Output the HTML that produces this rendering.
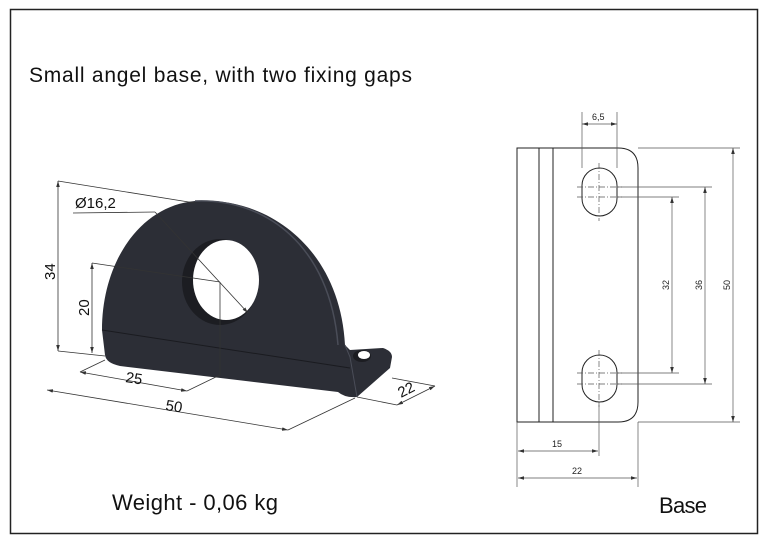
<!DOCTYPE html>
<html><head><style>body{margin:0;background:#fff}svg{display:block}</style></head><body>
<svg width="768" height="543" viewBox="0 0 768 543" xmlns="http://www.w3.org/2000/svg" font-family="Liberation Sans, sans-serif">
<defs>
<marker id="a" viewBox="0 0 10 10" refX="10" refY="5" markerWidth="6" markerHeight="6" orient="auto-start-reverse" markerUnits="userSpaceOnUse"><path d="M0,2 L10,5 L0,8 Z" fill="#333"/></marker>
</defs>
<rect x="10.5" y="9.5" width="747" height="524" fill="none" stroke="#222" stroke-width="1.5"/>
<text x="29" y="82" font-size="21" textLength="383" fill="#111">Small angel base, with two fixing gaps</text>
<text x="112" y="510" font-size="22" textLength="166" fill="#111">Weight - 0,06 kg</text>
<text x="659" y="513" font-size="22" textLength="48" fill="#111">Base</text>

<path d="M105,355 L102,330 C102,262 140,206 195,201 C270,196 340,250 345,345 L350,350 L383,348 Q392,351 392,357 L390,368 L357,397 Q345,398 338,392 L120,366 Q106,363 105,355 Z" fill="#2c2e36"/>
<path d="M102,330 L350,368" stroke="#1a1b20" stroke-width="1" fill="none"/>
<path d="M195,201 C265,198 330,245 338,345" stroke="#4a4d58" stroke-width="1.5" fill="none"/>
<path d="M345,345 L350,357 L357,397" stroke="#4a4d58" stroke-width="1" fill="none"/>
<ellipse cx="220" cy="282" rx="38" ry="43" fill="#1c1d22"/>
<ellipse cx="226" cy="280" rx="33" ry="40" fill="#fff"/>
<ellipse cx="362" cy="356" rx="9" ry="6" fill="#1c1d22"/>
<ellipse cx="364" cy="355" rx="6" ry="4" fill="#fff"/>
<g stroke="#333" stroke-width="0.8" fill="none">
<line x1="58" y1="181" x2="58" y2="351" marker-start="url(#a)" marker-end="url(#a)"/>
<line x1="58" y1="181" x2="195" y2="203"/>
<line x1="58" y1="351" x2="105" y2="356"/>
<line x1="92" y1="263" x2="92" y2="353" marker-start="url(#a)" marker-end="url(#a)"/>
<line x1="92" y1="263" x2="220" y2="282"/>
<line x1="220" y1="282" x2="220" y2="375"/>
<line x1="80" y1="372" x2="187" y2="391" marker-start="url(#a)" marker-end="url(#a)"/>
<line x1="187" y1="391" x2="220" y2="375"/>
<line x1="80" y1="372" x2="105" y2="360"/>
<line x1="47" y1="390" x2="288" y2="430" marker-start="url(#a)" marker-end="url(#a)"/>
<line x1="288" y1="430" x2="355" y2="398"/>
<line x1="397" y1="405" x2="435" y2="386" marker-start="url(#a)" marker-end="url(#a)"/>
<line x1="357" y1="397" x2="397" y2="405"/>
<line x1="392" y1="378" x2="435" y2="386"/>
<line x1="73" y1="213" x2="155" y2="212"/>
<line x1="155" y1="212" x2="248" y2="313" marker-end="url(#a)"/>
</g>
<g font-size="15" fill="#111">
<text x="75" y="208">Ø16,2</text>
<text transform="translate(55,280) rotate(-90)">34</text>
<text transform="translate(89,316) rotate(-90)">20</text>
<text transform="translate(125,382) rotate(9)">25</text>
<text transform="translate(165,410) rotate(9)">50</text>
<text transform="translate(401,398) rotate(-27)">22</text>
</g>

<g stroke="#222" stroke-width="1" fill="none">
<path d="M517,148 L618,148 Q638,148 638,168 L638,402 Q638,422 618,422 L517,422 Z"/>
<line x1="539" y1="148" x2="539" y2="422"/>
<line x1="553" y1="148" x2="553" y2="422"/>
<rect x="582" y="168" width="35" height="48" rx="17.5"/>
<rect x="582" y="355" width="35" height="47" rx="17.5"/>
</g>
<g stroke="#555" stroke-width="0.7" fill="none">
<g stroke-dasharray="6,2,1,2">
<line x1="599" y1="163" x2="599" y2="221"/>
<line x1="599" y1="350" x2="599" y2="407"/>
<line x1="577" y1="187" x2="622" y2="187"/>
<line x1="577" y1="197" x2="622" y2="197"/>
<line x1="577" y1="373" x2="622" y2="373"/>
<line x1="577" y1="384" x2="622" y2="384"/>
</g>
<line x1="617" y1="187" x2="712" y2="187"/>
<line x1="617" y1="197" x2="679" y2="197"/>
<line x1="617" y1="373" x2="679" y2="373"/>
<line x1="617" y1="384" x2="712" y2="384"/>
<line x1="638" y1="148" x2="740" y2="148"/>
<line x1="638" y1="422" x2="740" y2="422"/>
<line x1="672" y1="197" x2="672" y2="373" marker-start="url(#a)" marker-end="url(#a)"/>
<line x1="705" y1="187" x2="705" y2="384" marker-start="url(#a)" marker-end="url(#a)"/>
<line x1="733" y1="148" x2="733" y2="422" marker-start="url(#a)" marker-end="url(#a)"/>
<line x1="582" y1="112" x2="582" y2="168"/>
<line x1="617" y1="112" x2="617" y2="168"/>
<line x1="582" y1="124" x2="617" y2="124" marker-start="url(#a)" marker-end="url(#a)"/>
<line x1="517" y1="422" x2="517" y2="487"/>
<line x1="638" y1="422" x2="638" y2="487"/>
<line x1="599" y1="402" x2="599" y2="456"/>
<line x1="518" y1="451" x2="598" y2="451" marker-start="url(#a)" marker-end="url(#a)"/>
<line x1="518" y1="478" x2="637" y2="478" marker-start="url(#a)" marker-end="url(#a)"/>
</g>
<g font-size="9" fill="#222">
<text x="592" y="120">6,5</text>
<text x="552" y="447">15</text>
<text x="572" y="474">22</text>
<text transform="translate(669,290) rotate(-90)">32</text>
<text transform="translate(702,290) rotate(-90)">36</text>
<text transform="translate(730,290) rotate(-90)">50</text>
</g>
</svg>
</body></html>
